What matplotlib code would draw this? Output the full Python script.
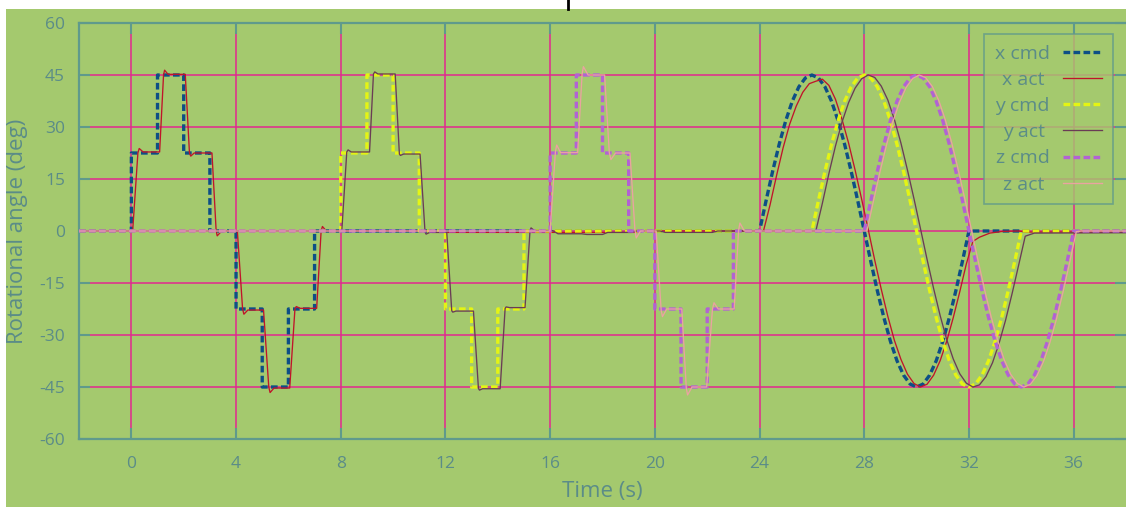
import matplotlib
matplotlib.use("Agg")
import matplotlib.pyplot as plt
from matplotlib.patches import Rectangle
from matplotlib.lines import Line2D
import numpy as np

plt.rcParams['font.family'] = ['Open Sans', 'DejaVu Sans']
plt.rcParams['axes.unicode_minus'] = False

# ---------------- data ----------------
# step commands: (change time, new value)
x_cmd_step_t = [-2, 0, 1, 2, 3, 4, 5, 6, 7, 24]
x_cmd_step_v = [0, 22.5, 45, 22.5, 0, -22.5, -45, -22.5, 0, 0]
y_cmd_step_t = [-2, 8, 9, 10, 11, 12, 13, 14, 15, 26]
y_cmd_step_v = [0, 22.5, 45, 22.5, 0, -22.5, -45, -22.5, 0, 0]
z_cmd_step_t = [-2, 16, 17, 18, 19, 20, 21, 22, 23, 28]
z_cmd_step_v = [0, 22.5, 45, 22.5, 0, -22.5, -45, -22.5, 0, 0]

# sinusoidal sweep, sampled every 0.25 s from its start
sweep_dt = [0, 0.25, 0.5, 0.75, 1, 1.25, 1.5, 1.75, 2, 2.25, 2.5, 2.75, 3, 3.25, 3.5, 3.75, 4,
            4.25, 4.5, 4.75, 5, 5.25, 5.5, 5.75, 6, 6.25, 6.5, 6.75, 7, 7.25, 7.5, 7.75, 8]
sweep_cmd = [0, 8.78, 17.22, 25.0, 31.82, 37.42, 41.57, 44.14, 45, 44.14, 41.57, 37.42, 31.82, 25.0,
             17.22, 8.78, 0, -8.78, -17.22, -25.0, -31.82, -37.42, -41.57, -44.14, -45, -44.14,
             -41.57, -37.42, -31.82, -25.0, -17.22, -8.78, 0]
x_sweep_start, y_sweep_start, z_sweep_start = 24, 26, 28
t_end = 38

# measured responses (breakpoints)
x_act_t = [-2, 0.05, 0.25, 0.3, 0.45, 1.08, 1.23, 1.27, 1.4, 2.06, 2.22, 2.27, 2.4, 3.08, 3.24, 3.28, 3.45,
           4.05, 4.25, 4.3, 4.45, 5.05, 5.25, 5.3, 5.45, 6.05, 6.25, 6.3, 6.45, 7.08, 7.25, 7.3, 7.45,
           11.3, 11.5, 19.3, 19.5, 23.9]
x_act_v = [0, 0, 22.5, 23.8, 22.8, 22.8, 45, 46.4, 45.2, 45.2, 22.5, 21.6, 22.5, 22.5, 0, -1.4, 0,
           0, -22.5, -24.0, -22.8, -22.8, -45, -46.6, -45.3, -45.3, -22.5, -21.8, -22.3, -22.3, 0, 1.3, 0,
           0, -0.4, -0.4, 0, 0]
x_act_sweep_start = 24.15
x_act_sweep = [0, 7.5, 16.0, 24.0, 30.8, 36.0, 40.0, 42.5, 43.2, 43.8, 42.0, 38.0, 32.2, 25.4, 17.6,
               9.2, 0.5, -8.4, -16.8, -24.6, -31.5, -37.0, -41.3, -44.0, -45.0, -44.2, -41.6, -37.4,
               -31.8, -25.0, -17.5, -9.5, -3.0]
x_act_tail_t = [32.4, 32.8, 33.3, 33.9, 34.2, 38]
x_act_tail_v = [-1.8, -0.6, -0.1, 0, -0.3, -0.3]

y_act_t = [-2, 8.04, 8.23, 8.28, 8.4, 9.1, 9.25, 9.3, 9.42, 10.08, 10.24, 10.28, 10.4, 11.03, 11.22, 11.26, 11.4,
           12.05, 12.24, 12.28, 12.4, 13.07, 13.26, 13.3, 13.42, 14.09, 14.28, 14.32, 14.45, 15.04, 15.23, 15.27, 15.4,
           16.1, 16.3, 17.2, 17.4, 18.0, 18.2, 19.1, 19.3, 20.2, 20.4, 22.2, 22.4, 26.0]
y_act_v = [0, 0, 22.8, 23.4, 22.8, 22.8, 45.3, 45.9, 45.3, 45.3, 22.2, 21.8, 22.2, 22.2, -0.3, -0.9, -0.4,
           -0.4, -23.0, -23.4, -23.1, -23.1, -45.4, -45.9, -45.5, -45.5, -22.3, -21.9, -22.1, -22.1, 0, 0.9, 0.1,
           0.1, -0.8, -0.8, -1.0, -1.0, -0.4, -0.4, 0, 0, -0.4, -0.4, 0, 0]
y_act_sweep_start = 26.15
y_act_sweep = [0, 8.0, 16.6, 24.5, 31.4, 37.0, 41.2, 43.9, 45.0, 44.3, 41.8, 37.8, 32.2, 25.4, 17.6, 9.3,
               0.6, -8.2, -16.6, -24.4, -31.3, -36.9, -41.2, -43.9, -45.0, -44.4, -42.0, -38.0, -32.4,
               -25.7, -18.0, -9.8, -1.5]
y_act_tail_t = [34.5, 38]
y_act_tail_v = [-0.6, -0.5]

z_act_t = [-2, 16.0, 16.2, 16.25, 16.4, 17.05, 17.22, 17.27, 17.45, 18.08, 18.26, 18.32, 18.5, 19.05, 19.24, 19.29, 19.45,
           20.05, 20.24, 20.29, 20.45, 21.03, 21.2, 21.25, 21.42, 21.98, 22.2, 22.26, 22.42, 23.03, 23.2, 23.25, 23.42, 28.05]
z_act_v = [0, 0, 22.8, 24.8, 22.6, 22.6, 45.2, 47.4, 45.0, 45.0, 22.6, 20.6, 22.5, 22.5, 0.2, -2.0, 0,
           0, -22.8, -24.7, -22.5, -22.5, -45.2, -47.3, -45.0, -45.0, -22.6, -20.7, -22.5, -22.5, 0.2, 2.3, 0, 0]
z_act_sweep_start = 28.1
z_act_sweep = [0, 8.6, 17.0, 24.8, 31.6, 37.2, 41.4, 44.0, 45.0, 44.2, 41.7, 37.6, 32.0, 25.2, 17.4, 9.0,
               0.2, -8.6, -17.0, -24.8, -31.6, -37.2, -41.4, -44.0, -45.0, -44.2, -41.7, -37.6, -32.0,
               -25.2, -17.4, -9.0, -0.2]
z_act_tail_t = [36.3, 38]
z_act_tail_v = [0, 0]

labels = ['x cmd', 'x act', 'y cmd', 'y act', 'z cmd', 'z act']
colors = ['#0d4f86', '#c0142a', '#e4f414', '#6a3c55', '#b262d4', '#eaa3a0']

x_ticks = [0, 4, 8, 12, 16, 20, 24, 28, 32, 36]
y_ticks = [-60, -45, -30, -15, 0, 15, 30, 45, 60]


# ---------------- helpers (drawing only) ----------------
def step_path(st, sv, sweep_start, sweep_vals):
    ts, vs = [], []
    for i in range(len(st) - 1):
        ts += [st[i], st[i + 1]]
        vs += [sv[i], sv[i]]
    ts += [sweep_start + d for d in sweep_dt]
    vs += list(sweep_vals)
    ts.append(t_end)
    vs.append(0)
    return ts, vs


def act_path(bt, bv, sweep_start, sweep_vals, tt, tv):
    ts = list(bt) + [sweep_start + d for d in sweep_dt] + list(tt)
    vs = list(bv) + list(sweep_vals) + list(tv)
    return ts, vs


series = [
    step_path(x_cmd_step_t, x_cmd_step_v, x_sweep_start, sweep_cmd),
    act_path(x_act_t, x_act_v, x_act_sweep_start, x_act_sweep, x_act_tail_t, x_act_tail_v),
    step_path(y_cmd_step_t, y_cmd_step_v, y_sweep_start, sweep_cmd),
    act_path(y_act_t, y_act_v, y_act_sweep_start, y_act_sweep, y_act_tail_t, y_act_tail_v),
    step_path(z_cmd_step_t, z_cmd_step_v, z_sweep_start, sweep_cmd),
    act_path(z_act_t, z_act_v, z_act_sweep_start, z_act_sweep, z_act_tail_t, z_act_tail_v),
]

# ---------------- figure ----------------
W, H = 1126, 507
fig = plt.figure(figsize=(W / 100, H / 100), dpi=100)
fig.patch.set_facecolor('white')
bg = '#a4c96e'
fig.add_artist(Rectangle((6 / W, 0), 1 - 6 / W, 498 / H, transform=fig.transFigure,
                         facecolor=bg, edgecolor='none', zorder=0))
fig.add_artist(Line2D([568 / W, 568 / W], [498 / H, 1], transform=fig.transFigure,
                      color='black', lw=2, zorder=1))

ax = fig.add_axes([79 / W, 68 / H, (W - 79) / W, 416 / H])
ax.set_facecolor('none')

teal = '#5f9a8c'
txtc = '#5b8c88'
grid_c = '#e2288f'

for i, (ts, vs) in enumerate(series):
    # legend rows are right-aligned; a trailing space on the shorter labels centres them
    lab = labels[i] + (' ' if 'act' in labels[i] else '')
    if i % 2 == 0:
        ax.plot(ts, vs, color=colors[i], lw=2.4, dashes=(2.0, 1.0), label=lab,
                zorder=2 + i, solid_capstyle='butt', dash_capstyle='butt')
    else:
        ax.plot(ts, vs, color=colors[i], lw=0.95, label=lab, zorder=2 + i)

ax.set_xlim(-2, 38)
ax.set_ylim(-60, 60)
ax.set_xticks(x_ticks)
ax.set_yticks(y_ticks)
ax.set_axisbelow(True)
ax.grid(True, color=grid_c, lw=1.1)

for s in ['left', 'top', 'bottom']:
    ax.spines[s].set_color(teal)
    ax.spines[s].set_linewidth(1.6)
ax.spines['right'].set_visible(False)

ax.tick_params(axis='both', which='major', direction='in', length=8, width=1.5, color=teal,
               labelcolor=txtc, labelsize=12.5, top=True, right=True)
ax.tick_params(axis='x', pad=12)
ax.tick_params(axis='y', pad=10)

ax.set_xlabel('Time (s)', color=txtc, fontsize=16)
ax.set_ylabel('Rotational angle (deg)', color=txtc, fontsize=16)
ax.yaxis.set_label_coords((18 - 79) / (W - 79), 0.5)
ax.xaxis.set_label_coords(0.5, -(491 - 439) / 416)
ax.xaxis.label.set_va('center')
ax.yaxis.label.set_va('center')

leg = ax.legend(loc='upper right', bbox_to_anchor=(1113 / W, 1 - 34 / H), bbox_transform=fig.transFigure,
                markerfirst=False, frameon=True, fancybox=False, fontsize=14,
                handlelength=2.0, labelspacing=0.42, borderpad=0.55, handletextpad=0.7, borderaxespad=0)
leg.get_frame().set_facecolor(bg)
leg.get_frame().set_edgecolor(teal)
leg.get_frame().set_linewidth(1.2)
leg.set_zorder(20)
for t in leg.get_texts():
    t.set_color(txtc)

fig.savefig('out.png', dpi=100, facecolor='white')
